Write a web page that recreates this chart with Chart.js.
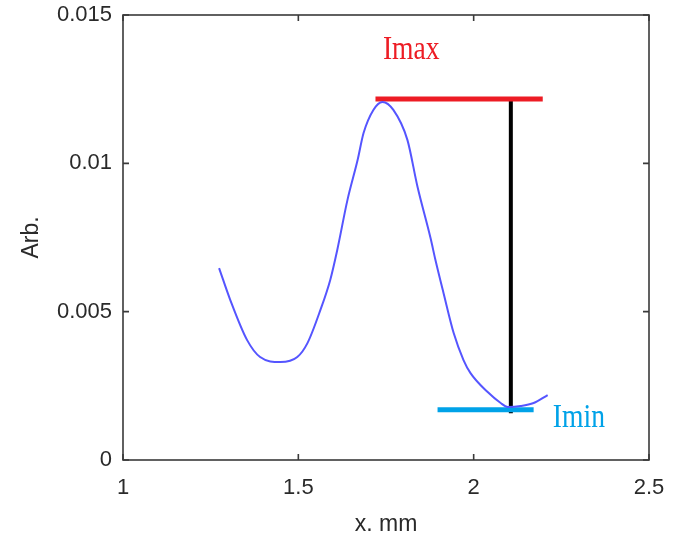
<!DOCTYPE html>
<html>
<head>
<meta charset="utf-8">
<script src="https://cdn.jsdelivr.net/npm/chart.js@4/dist/chart.umd.min.js"></script>
<style>
    html, body { margin: 0; padding: 0; background: #fff; }
    #wrap { width: 677px; height: 540px; }
</style>
</head>
<body>
<div id="wrap"><canvas id="profile" width="677" height="540"></canvas></div>
<script>
// profile (x in mm, intensity in arb. units)
const profileX = [1.274, 1.306, 1.354, 1.391, 1.449, 1.497, 1.526, 1.563, 1.591, 1.611,
    1.640, 1.669, 1.686, 1.714, 1.740, 1.771, 1.811, 1.840, 1.877, 1.891,
    1.914, 1.943, 1.971, 1.991, 2.040, 2.077, 2.097, 2.134, 2.171, 2.211];
const profileY = [0.00647, 0.00539, 0.00404, 0.00347, 0.00330, 0.00347, 0.00394, 0.00506, 0.00607, 0.00708,
    0.00876, 0.01011, 0.01102, 0.01180, 0.01207, 0.01180, 0.01079, 0.00920, 0.00748, 0.00674,
    0.00563, 0.00428, 0.00337, 0.00293, 0.00229, 0.00192, 0.00179, 0.00182, 0.00192, 0.00219];

// marker lines
const imaxX = [1.72, 2.197];
const imaxY = [0.01217, 0.01217];
const iminX = [1.897, 2.171];
const iminY = [0.00169, 0.00169];
const spanX = [2.106, 2.106];
const spanY = [0.01217, 0.00158];

// text labels: [text, x, y, colour]
const markerLabels = [
    ['Imax', 1.822, 0.01382, '#ed1c24'],
    ['Imin', 2.30, 0.00142, '#00a2e8'],
];

const xTicks = [1, 1.5, 2, 2.5];
const xTickLabels = ['1', '1.5', '2', '2.5'];
const yTicks = [0, 0.005, 0.01, 0.015];
const yTickLabels = ['0', '0.005', '0.01', '0.015'];

function toPoints(xs, ys) {
    return xs.map((x, i) => ({ x: x, y: ys[i] }));
}

const axisColor = '#3a3a3a';

// box around the plot with inward ticks, like the original figure
const boxPlugin = {
    id: 'box',
    afterDatasetsDraw(chart) {
        const { ctx, chartArea: a, scales } = chart;
        ctx.save();
        ctx.strokeStyle = axisColor;
        ctx.lineWidth = 1.6;
        ctx.strokeRect(a.left, a.top, a.right - a.left, a.bottom - a.top);
        const len = 6;
        ctx.beginPath();
        xTicks.forEach((v) => {
            const px = scales.x.getPixelForValue(v);
            ctx.moveTo(px, a.bottom); ctx.lineTo(px, a.bottom - len);
            ctx.moveTo(px, a.top); ctx.lineTo(px, a.top + len);
        });
        yTicks.forEach((v) => {
            const py = scales.y.getPixelForValue(v);
            ctx.moveTo(a.left, py); ctx.lineTo(a.left + len, py);
            ctx.moveTo(a.right, py); ctx.lineTo(a.right - len, py);
        });
        ctx.stroke();

        markerLabels.forEach(([text, x, y, color]) => {
            const px = scales.x.getPixelForValue(x);
            const py = scales.y.getPixelForValue(y);
            ctx.save();
            ctx.translate(px, py);
            ctx.scale(0.92, 1.12);
            ctx.fillStyle = color;
            ctx.font = '30px "Liberation Serif", serif';
            ctx.textAlign = 'center';
            ctx.textBaseline = 'middle';
            ctx.fillText(text, 0, 0);
            ctx.restore();
        });
        ctx.restore();
    },
};

new Chart(document.getElementById('profile'), {
    type: 'line',
    data: {
        datasets: [
            {
                data: toPoints(profileX, profileY),
                borderColor: '#5555ff',
                borderWidth: 2,
                pointRadius: 0,
                cubicInterpolationMode: 'monotone',
            },
            {
                data: toPoints(imaxX, imaxY),
                borderColor: '#ed1c24',
                borderWidth: 5,
                pointRadius: 0,
            },
            {
                data: toPoints(iminX, iminY),
                borderColor: '#00a2e8',
                borderWidth: 5,
                pointRadius: 0,
            },
            {
                data: toPoints(spanX, spanY),
                borderColor: '#000000',
                borderWidth: 4,
                pointRadius: 0,
            },
        ],
    },
    options: {
        responsive: false,
        animation: false,
        layout: { padding: { top: 15, right: 28, left: 0, bottom: 0 } },
        plugins: {
            legend: { display: false },
            tooltip: { enabled: false },
        },
        scales: {
            x: {
                type: 'linear',
                min: 1,
                max: 2.5,
                afterFit: (scale) => {
                    scale.height = 80;
                    scale.paddingLeft = 0;
                    scale.paddingRight = 0;
                },
                afterBuildTicks: (scale) => {
                    scale.ticks = xTicks.map((v) => ({ value: v }));
                },
                grid: { display: false, drawTicks: false },
                border: { display: false },
                ticks: {
                    padding: 15,
                    color: '#2a2a2a',
                    font: { family: '"Liberation Sans", Arial, sans-serif', size: 22 },
                    maxRotation: 0,
                    callback: (v, i) => xTickLabels[i],
                },
                title: {
                    display: true,
                    text: 'x. mm',
                    color: '#2a2a2a',
                    font: { family: '"Liberation Sans", Arial, sans-serif', size: 23 },
                    padding: { top: 0, bottom: 2 },
                },
            },
            y: {
                min: 0,
                max: 0.015,
                afterFit: (scale) => {
                    scale.width = 123;
                    scale.paddingTop = 0;
                    scale.paddingBottom = 0;
                },
                afterBuildTicks: (scale) => {
                    scale.ticks = yTicks.map((v) => ({ value: v }));
                },
                grid: { display: false, drawTicks: false },
                border: { display: false },
                ticks: {
                    padding: 11,
                    color: '#2a2a2a',
                    font: { family: '"Liberation Sans", Arial, sans-serif', size: 22 },
                    callback: (v, i) => yTickLabels[i],
                },
                title: {
                    display: true,
                    text: 'Arb.',
                    color: '#2a2a2a',
                    font: { family: '"Liberation Sans", Arial, sans-serif', size: 23 },
                    padding: { top: 18, bottom: 0 },
                },
            },
        },
    },
    plugins: [boxPlugin],
});
</script>
</body>
</html>
